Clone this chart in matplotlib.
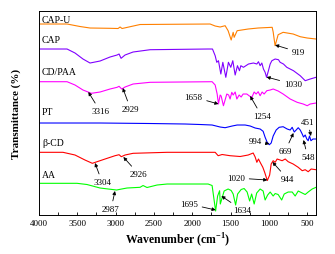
import numpy as np
import matplotlib
matplotlib.use("Agg")
import matplotlib.pyplot as plt
from matplotlib.ticker import MultipleLocator

plt.rcParams['font.family'] = ['Liberation Serif', 'DejaVu Serif']
# bold serif superscript in the x label
plt.rcParams['mathtext.fontset'] = 'custom'
plt.rcParams['mathtext.rm'] = 'Liberation Serif:bold'
plt.rcParams['mathtext.bf'] = 'Liberation Serif:bold'

# FTIR spectra, stacked with offsets (wavenumber, transmittance a.u.)
capu_wn = [4000, 3634, 3465, 3334, 3073, 2968, 2942, 2916, 2681, 1767, 1701, 1636, 1571,
           1532, 1492, 1466, 1453, 1414, 1270, 1140, 957, 944, 919, 879, 814, 683, 591, 500, 385]
capu_t = [191, 191, 188.5, 187, 186.7, 186.5, 188, 186.5, 190.5, 191, 189, 188, 189.3,
          184.3, 175, 182.7, 177.7, 184.3, 186, 187, 187.7, 183, 169.3, 180.3, 182.7, 181, 178.3, 177, 176]

cap_wn = [4000, 3634, 3530, 3426, 3334, 3203, 3073, 2981, 2955, 2929, 2877, 2772, 2550, 1793,
          1736, 1701, 1680, 1658, 1627, 1601, 1562, 1528, 1497, 1471, 1440, 1410, 1384, 1366,
          1332, 1266, 1201, 1157, 1136, 1114, 1092, 1071, 1049, 1030, 1006, 983, 961, 918, 875,
          853, 810, 766, 679, 591, 526, 461, 385]
cap_t = [166, 166, 162, 156, 152, 154, 158, 160, 161, 156.7, 160, 163, 165.3, 166,
         166, 159.3, 152.7, 154.3, 141, 152.7, 137.7, 152.7, 147.7, 154.3, 140, 149.3, 144.3, 149.3,
         147.7, 151, 152, 151, 153.3, 149.3, 152, 146, 142.7, 137.7, 144.3, 151, 154.3, 156, 155.3,
         152.7, 151, 147.7, 144.3, 139.3, 134.3, 136, 137.7]

cdpaa_wn = [4000, 3634, 3530, 3426, 3316, 3203, 3073, 2981, 2955, 2920, 2877, 2772, 2550, 1741,
            1701, 1675, 1658, 1636, 1623, 1593, 1549, 1525, 1506, 1484, 1466, 1440, 1418, 1388,
            1362, 1336, 1288, 1254, 1222, 1192, 1166, 1140, 1114, 1088, 1062, 1027, 983, 944,
            879, 814, 722, 631, 552, 500, 461, 385]
cdpaa_t = [133.3, 133.3, 130, 125, 121.7, 123, 126, 127.7, 128.7, 126, 128, 131, 132.7, 133.3,
           130, 121, 111, 120, 119, 109.3, 121, 120, 116, 122.7, 120, 123, 116, 120,
           118, 121, 121, 119, 117.7, 123, 121, 123.3, 119.3, 123, 121, 124.3, 125, 126,
           124, 121, 116, 112.7, 111, 109.3, 111, 112]

pt_wn = [4000, 3203, 2550, 2093, 1897, 1741, 1636, 1571, 1479, 1414, 1310, 1244, 1179, 1114,
         1075, 1049, 1022, 994, 970, 944, 905, 866, 814, 761, 722, 696, 669, 644, 617, 591,
         565, 548, 526, 505, 487, 470, 451, 425, 385]
pt_t = [92, 92, 91.5, 91, 90.5, 90, 88, 87.3, 89, 90, 90, 89, 87, 86,
        83.7, 77.7, 72.7, 70.3, 72, 79, 85, 87.7, 88.3, 86, 85, 87.7, 83, 85, 87.3, 85,
        81, 78, 80, 76, 74.3, 79, 74.3, 76, 76]

bcd_wn = [4000, 3687, 3530, 3400, 3304, 3138, 3008, 2955, 2926, 2877, 2772, 2328, 1701, 1662,
          1610, 1506, 1375, 1270, 1205, 1179, 1157, 1136, 1114, 1079, 1055, 1034, 1020, 990,
          970, 944, 918, 892, 827, 787, 748, 683, 617, 565, 526, 487, 448, 385]
bcd_t = [62.7, 62.7, 60, 55, 51.7, 56, 59.3, 60.3, 58.3, 60, 61.7, 62.7, 62.7, 59.3,
         60.5, 59.3, 58.5, 60, 62, 58, 52.7, 56, 52.7, 47.7, 42.7, 37.7, 34.5, 40,
         51, 54.3, 52.7, 56, 54.3, 56, 53.3, 51, 47.7, 44.3, 45.3, 43.3, 46, 45.3]

aa_wn = [4000, 3504, 3374, 3203, 2987, 2942, 2851, 2681, 2642, 2590, 2459, 2328, 1793, 1741,
         1695, 1669, 1643, 1634, 1584, 1532, 1492, 1466, 1434, 1408, 1362, 1323, 1284, 1251,
         1225, 1192, 1159, 1114, 1075, 1049, 1016, 983, 944, 918, 879, 833, 800, 748, 696,
         657, 617, 565, 526, 487, 435, 385]
aa_t = [31.7, 31.7, 30.5, 27, 25, 25.7, 27, 27.7, 29.5, 27.5, 30, 31, 31, 29.5,
        4, 19, 24.3, 11, 24, 26, 24.5, 21, 10, 21, 25.5, 26.5, 23, 14,
        21, 11, 22, 26, 24, 15, 20, 23, 19, 21.5, 20.5, 15, 21, 23, 23,
        19, 24, 22, 20.5, 23, 26, 27.7]

names = ['CAP-U', 'CAP', 'CD/PAA', 'PT', 'β-CD', 'AA']
colors = ['#ff8000', '#8000ff', '#ff00ff', '#0000ff', '#ff0000', '#00ff00']
series = [(capu_wn, capu_t), (cap_wn, cap_t), (cdpaa_wn, cdpaa_t),
          (pt_wn, pt_t), (bcd_wn, bcd_t), (aa_wn, aa_t)]
name_y = [196, 176, 144, 104, 73, 41]

# (label, tip wavenumber, tip T, text wavenumber, text T)
peaks = [('919', 919, 170, 617, 163),
         ('1030', 1030, 138, 689, 131),
         ('1658', 1658, 111, 1982, 118),
         ('1254', 1244, 119, 1094, 99),
         ('3316', 3356, 123, 3203, 104),
         ('2929', 2907, 127, 2805, 106),
         ('994', 994, 71, 1179, 74),
         ('669', 679, 82, 787, 64),
         ('548', 548, 75, 493, 58),
         ('451', 451, 79, 493, 93),
         ('3304', 3269, 52, 3177, 33),
         ('2926', 2899, 58, 2700, 41),
         ('1020', 1020, 35, 1427, 37),
         ('944', 953, 53, 755, 36),
         ('1695', 1695, 5, 2041, 11),
         ('1634', 1620, 19, 1349, 5),
         ('2987', 3008, 24, 3060, 6)]


def main():
    fig = plt.figure(figsize=(3.35, 2.55), dpi=100)
    ax = fig.add_axes([0.1164, 0.1529, 0.8269, 0.8])

    for (wn, t), c in zip(series, colors):
        ax.plot(wn, t, color=c, lw=0.8)

    for n, y in zip(names, name_y):
        ax.text(3960, y, n, fontsize=7, va='center', ha='left')

    for lab, xw, yt, tx, ty in peaks:
        ax.annotate(lab, xy=(xw, yt), xytext=(tx, ty), fontsize=6.5,
                    ha='center', va='center',
                    arrowprops=dict(arrowstyle='-|>', color='black', lw=0.6,
                                    mutation_scale=5, shrinkA=1, shrinkB=0))

    ax.set_xlim(4000, 385)
    ax.set_ylim(0, 204)
    ax.xaxis.set_major_locator(MultipleLocator(500))
    ax.xaxis.set_minor_locator(MultipleLocator(250))
    ax.tick_params(axis='x', which='both', direction='in', length=2.5, width=0.6,
                   labelsize=6.5, pad=3, top=False)
    ax.set_yticks([])
    for s in ax.spines.values():
        s.set_linewidth(0.7)

    ax.set_xlabel(r'Wavenumber (cm$^{-1}$)', fontsize=8.5, fontweight='bold', labelpad=2)
    ax.set_ylabel('Transmittance (%)', fontsize=8, fontweight='bold', labelpad=13)

    fig.savefig('out.png', dpi=100)


if __name__ == "__main__":
    main()
